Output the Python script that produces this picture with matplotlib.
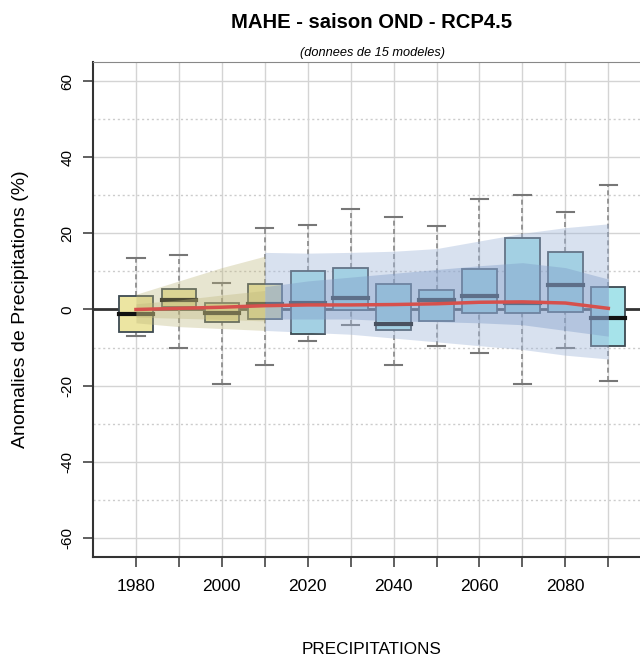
import numpy as np
import matplotlib
matplotlib.use("Agg")
import matplotlib.pyplot as plt

plt.rcParams['font.family'] = ['Liberation Sans', 'DejaVu Sans']

# decades (box centres)
years = [1980, 1990, 2000, 2010, 2020, 2030, 2040, 2050, 2060, 2070, 2080, 2090]
# box stats (%)
whisk_lo = [-6.9, -10.0, -19.6, -14.6, -8.2, -4.1, -14.7, -9.7, -11.4, -19.5, -10.0, -18.8]
q1 = [-5.8, 0.7, -3.2, -2.5, -6.5, -0.2, -5.4, -3.1, -1.0, -0.8, -0.6, -9.5]
med = [-1.2, 2.4, -1.0, 1.4, 1.7, 3.1, -3.8, 2.4, 3.6, 1.6, 6.4, -2.3]
q3 = [3.6, 5.5, 1.7, 6.8, 10.1, 10.9, 6.8, 5.1, 10.6, 18.8, 15.1, 5.9]
whisk_hi = [13.6, 14.4, 6.9, 21.5, 22.1, 26.3, 24.4, 21.8, 29.1, 30.1, 25.5, 32.8]
hist_flag = [1, 1, 1, 1, 0, 0, 0, 0, 0, 0, 0, 0]

# historical envelope
hist_years = [1980, 1990, 2000, 2010]
hist_out_lo = [-3.5, -4.5, -5.0, -5.5]
hist_out_hi = [4.0, 7.5, 11.0, 14.0]
hist_in_lo = [-2.0, -2.3, -2.6, -3.0]
hist_in_hi = [1.5, 2.5, 3.8, 5.0]

# scenario envelope
scen_years = [2010, 2020, 2030, 2040, 2050, 2060, 2070, 2080, 2090]
scen_out_lo = [-5.5, -6.0, -6.5, -7.5, -8.5, -9.5, -10.5, -12.0, -13.0]
scen_out_hi = [15.0, 14.8, 15.0, 15.3, 16.0, 18.0, 20.0, 21.5, 22.5]
scen_in_lo = [-2.5, -2.5, -2.5, -3.0, -3.2, -3.5, -4.0, -5.5, -7.0]
scen_in_hi = [6.0, 7.5, 8.5, 9.5, 10.5, 11.5, 12.3, 11.0, 8.0]

# mean trend
trend = [0.0, 0.3, 0.6, 1.0, 1.2, 1.2, 1.3, 1.5, 1.9, 2.0, 1.7, 0.3]

fig = plt.figure(figsize=(6.4, 6.59), dpi=100)
ax = fig.add_axes([93/640, 1-557/659, 569/640, 495/659])
ax.set_xlim(1970, 2102.5)
ax.set_ylim(-65, 65)

# grid
for yy in range(-60, 61, 20):
    ax.axhline(yy, color='#d4d4d4', lw=1, zorder=0)
for yy in range(-50, 51, 20):
    ax.axhline(yy, color='#cccccc', lw=1, ls=(0, (1.5, 2)), zorder=0)
for xx in range(1980, 2101, 10):
    ax.axvline(xx, color='#d4d4d4', lw=1, zorder=0)

ax.axhline(0, color='#333333', lw=2, zorder=1)

# boxes
bw = 8.0
for i, yr in enumerate(years):
    fc = '#ece5a2' if hist_flag[i] else '#a6e3ea'
    ax.plot([yr, yr], [whisk_lo[i], q1[i]], color='#888888', lw=1.2, ls=(0, (3, 2)), zorder=2)
    ax.plot([yr, yr], [q3[i], whisk_hi[i]], color='#888888', lw=1.2, ls=(0, (3, 2)), zorder=2)
    ax.plot([yr - 2, yr + 2], [whisk_lo[i]] * 2, color='#777777', lw=1.5, zorder=2)
    ax.plot([yr - 2, yr + 2], [whisk_hi[i]] * 2, color='#777777', lw=1.5, zorder=2)
    ax.add_patch(plt.Rectangle((yr - bw/2, q1[i]), bw, q3[i] - q1[i],
                               facecolor=fc, edgecolor='#3d4a52', lw=1.3, zorder=3))
    ax.plot([yr - bw/2, yr + bw/2], [med[i]] * 2, color='#111111', lw=3, zorder=3)

# envelopes
ax.fill_between(hist_years, hist_out_lo, hist_out_hi, color='#bdb57a', alpha=0.35, lw=0, zorder=4)
ax.fill_between(hist_years, hist_in_lo, hist_in_hi, color='#bdb57a', alpha=0.35, lw=0, zorder=4)
ax.fill_between(scen_years, scen_out_lo, scen_out_hi, color='#9fb5d9', alpha=0.4, lw=0, zorder=4)
ax.fill_between(scen_years, scen_in_lo, scen_in_hi, color='#7f9cc8', alpha=0.4, lw=0, zorder=4)

ax.plot(years, trend, color='#d6504c', lw=2.5, zorder=5)

# axes styling
for s in ['left', 'bottom']:
    ax.spines[s].set_color('#333333')
    ax.spines[s].set_linewidth(1.5)
ax.spines['top'].set_color('#888888')
ax.spines['right'].set_visible(False)

ax.set_yticks(range(-60, 61, 20))
ax.set_yticklabels([str(v) for v in range(-60, 61, 20)], rotation=90, va='center', fontsize=11)
ax.set_xticks(years)
ax.set_xticklabels([str(y) if y % 20 == 0 else '' for y in years], fontsize=12.5)
ax.tick_params(axis='both', direction='out', length=7.5, width=1.2, color='#444444')
ax.tick_params(axis='x', pad=8)
ax.tick_params(axis='y', pad=6)

ax.set_ylabel('Anomalies de Precipitations (%)', fontsize=14)
ax.yaxis.set_label_coords(-0.113, 0.5)
fig.text(372/640, 1 - 649/659, 'PRECIPITATIONS', ha='center', va='center', fontsize=12.3)
fig.text(372/640, 1 - 22/659, 'MAHE - saison OND - RCP4.5', ha='center', va='center',
         fontsize=14.6, fontweight='bold')
fig.text(372/640, 1 - 53/659, '(donnees de 15 modeles)', ha='center', va='center',
         fontsize=9.2, style='italic')

fig.savefig('out.png', dpi=100)
